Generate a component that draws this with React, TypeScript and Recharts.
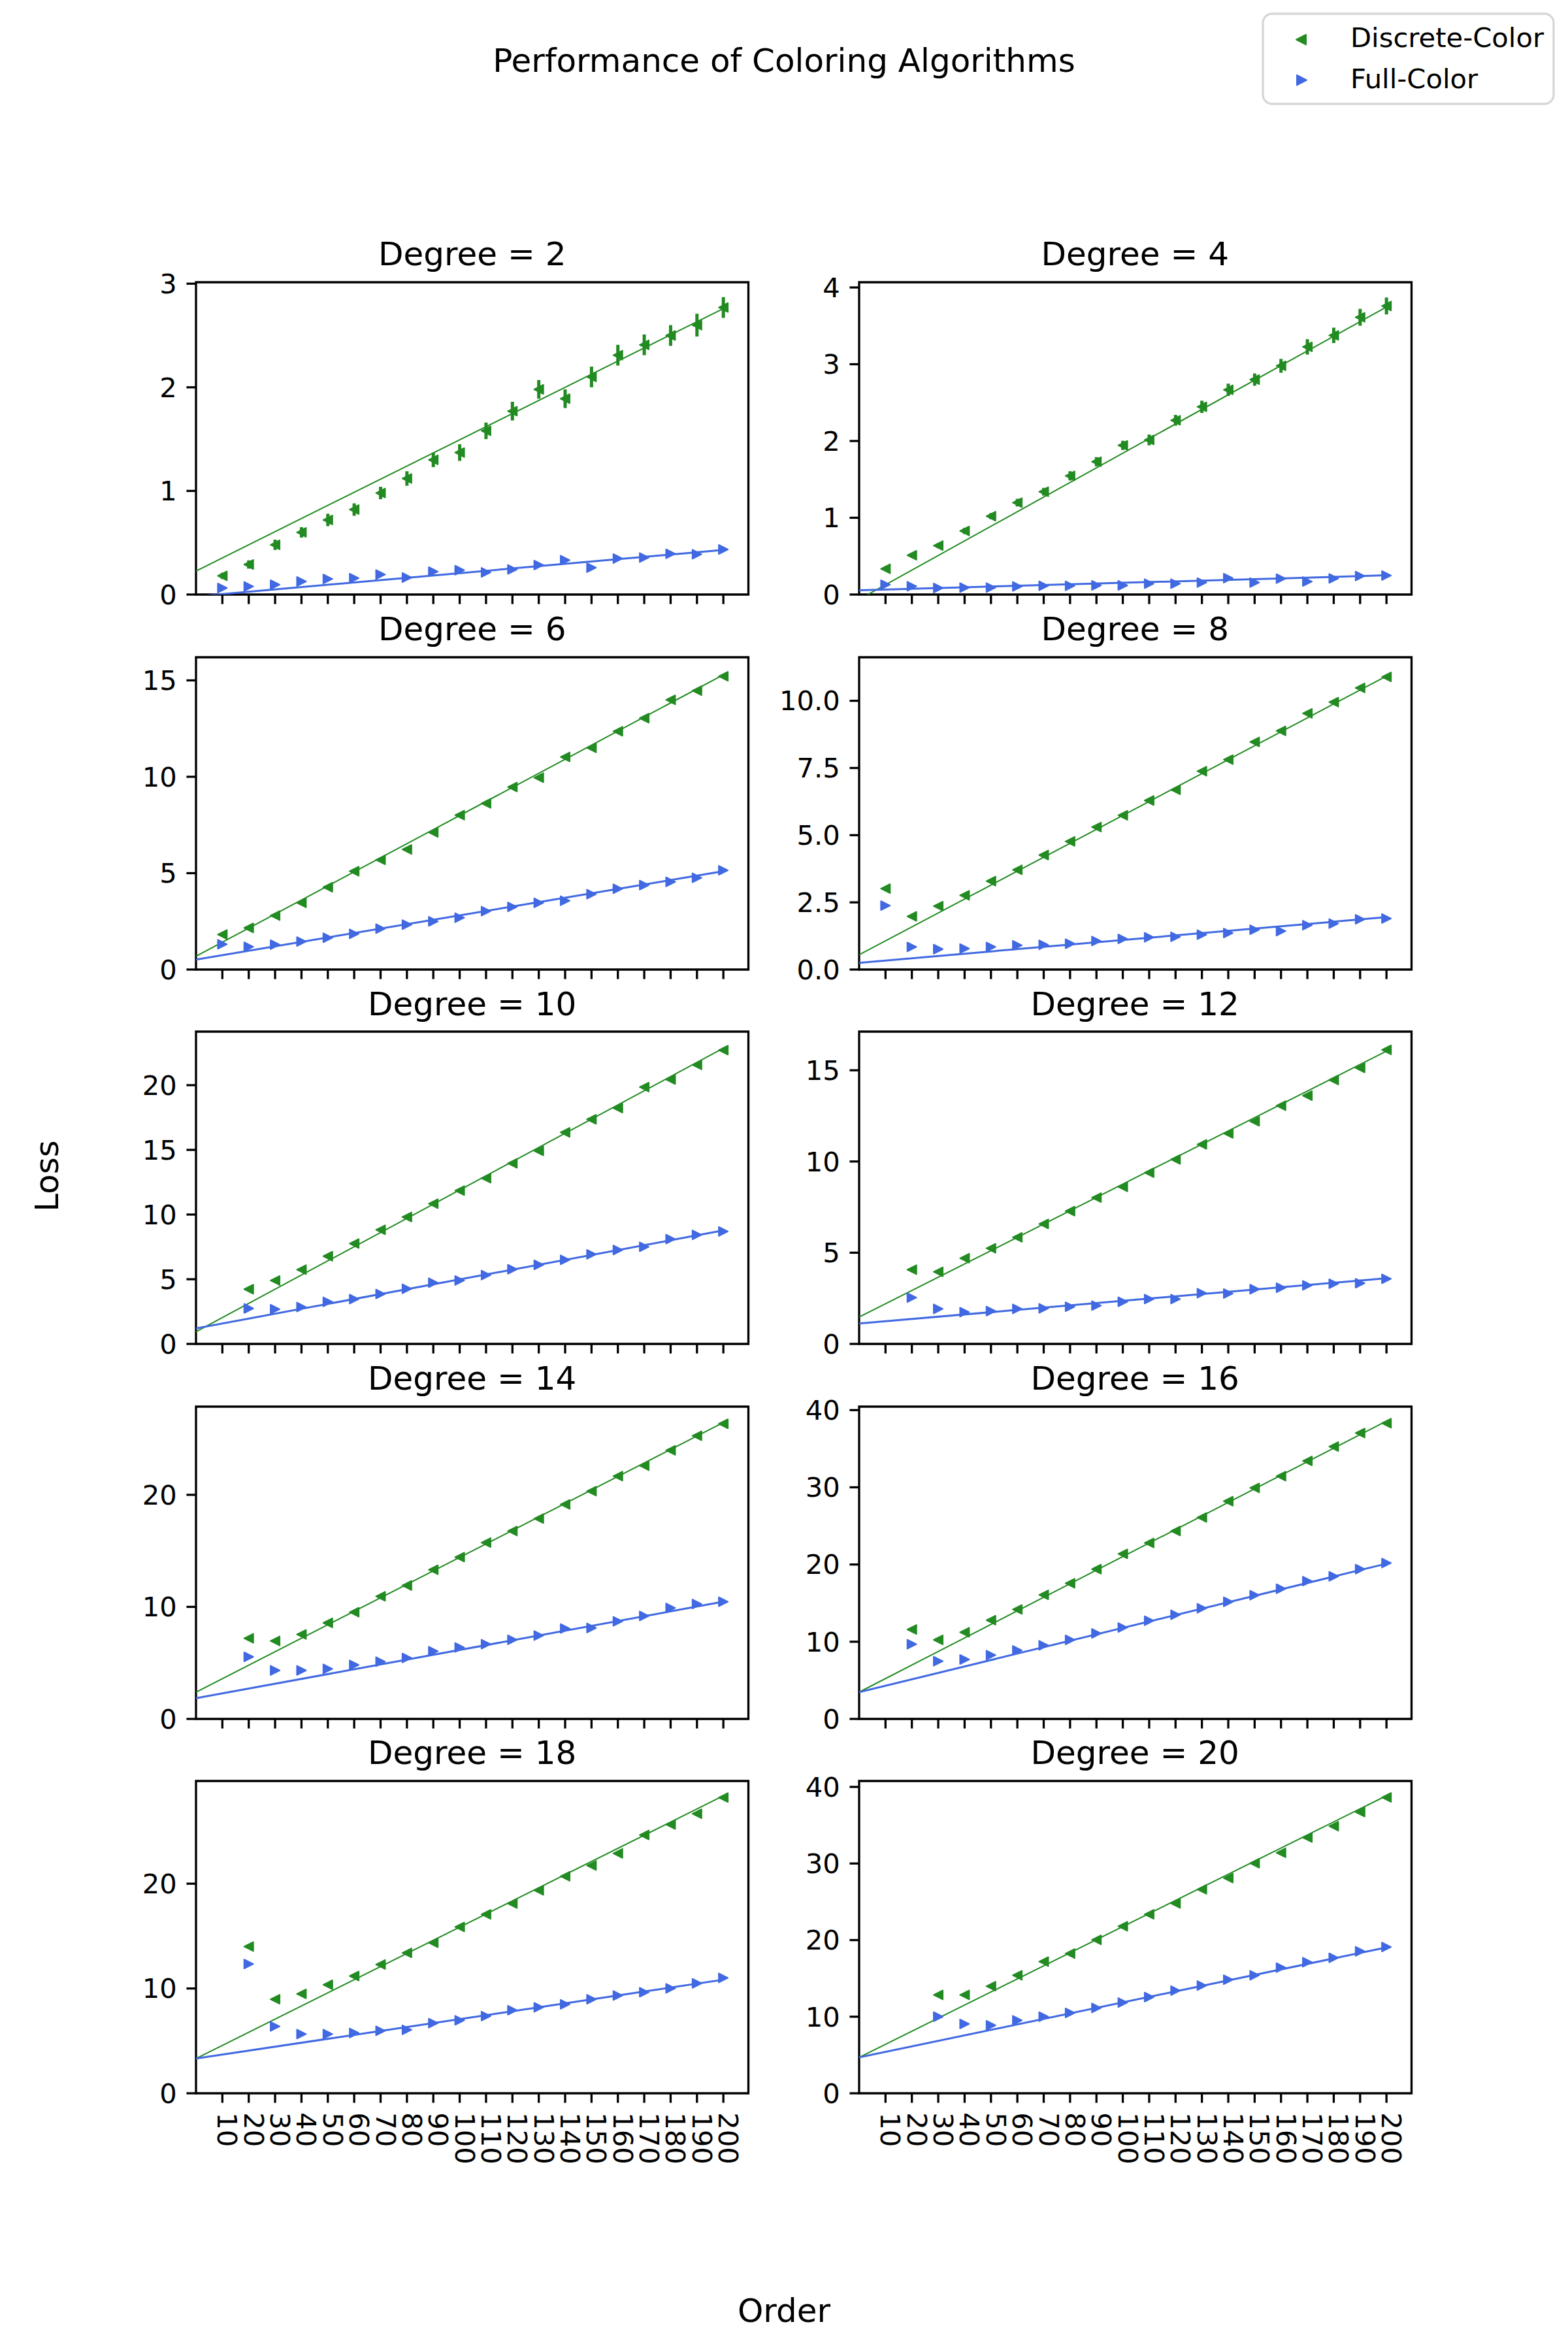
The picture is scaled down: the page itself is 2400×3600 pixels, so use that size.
import React from "react";
import { ComposedChart, Scatter, Line, XAxis, YAxis, ErrorBar, ReferenceArea } from "recharts";

// graph order (x axis)
const ORDERS = [10, 20, 30, 40, 50, 60, 70, 80, 90, 100, 110, 120, 130, 140, 150, 160, 170, 180, 190, 200];
const DEGREES = [2, 4, 6, 8, 10, 12, 14, 16, 18, 20];

// Discrete-Color loss / error, Full-Color loss (null = no run at that order)
const discrete2 = [0.18, 0.29, 0.48, 0.6, 0.72, 0.82, 0.98, 1.12, 1.3, 1.37, 1.58, 1.77, 1.98, 1.89, 2.1, 2.31, 2.41, 2.5, 2.6, 2.77];
const discreteErr2 = [0.03, 0.04, 0.05, 0.05, 0.06, 0.06, 0.06, 0.07, 0.07, 0.08, 0.08, 0.09, 0.09, 0.09, 0.1, 0.1, 0.1, 0.1, 0.11, 0.1];
const full2 = [0.063, 0.078, 0.095, 0.126, 0.151, 0.158, 0.193, 0.164, 0.221, 0.235, 0.214, 0.242, 0.284, 0.332, 0.259, 0.347, 0.357, 0.393, 0.389, 0.435];

const discrete4 = [0.335, 0.511, 0.638, 0.828, 1.021, 1.197, 1.339, 1.546, 1.73, 1.943, 2.014, 2.27, 2.445, 2.667, 2.8, 2.979, 3.226, 3.376, 3.611, 3.759];
const discreteErr4 = [0.02, 0.03, 0.03, 0.04, 0.04, 0.05, 0.05, 0.06, 0.06, 0.06, 0.07, 0.07, 0.08, 0.08, 0.08, 0.09, 0.1, 0.1, 0.11, 0.11];
const full4 = [0.128, 0.108, 0.085, 0.091, 0.091, 0.105, 0.113, 0.113, 0.119, 0.119, 0.142, 0.142, 0.156, 0.213, 0.156, 0.207, 0.17, 0.21, 0.241, 0.247];

const discrete6 = [1.82, 2.16, 2.8, 3.46, 4.27, 5.1, 5.69, 6.23, 7.11, 8.01, 8.62, 9.47, 9.95, 11.03, 11.5, 12.36, 13.04, 13.99, 14.47, 15.21];
const full6 = [1.31, 1.18, 1.29, 1.45, 1.65, 1.85, 2.12, 2.33, 2.5, 2.69, 3.03, 3.25, 3.46, 3.57, 3.91, 4.19, 4.38, 4.55, 4.76, 5.15];

const discrete8 = [3.01, 1.98, 2.36, 2.76, 3.29, 3.71, 4.26, 4.77, 5.3, 5.74, 6.29, 6.69, 7.38, 7.81, 8.47, 8.88, 9.53, 9.95, 10.48, 10.89];
const full8 = [2.38, 0.84, 0.76, 0.78, 0.84, 0.9, 0.92, 0.96, 1.06, 1.14, 1.2, 1.22, 1.3, 1.36, 1.48, 1.43, 1.65, 1.71, 1.87, 1.9];

const discrete10 = [null, 4.23, 4.9, 5.74, 6.78, 7.76, 8.82, 9.81, 10.84, 11.85, 12.81, 13.96, 14.92, 16.35, 17.36, 18.23, 19.85, 20.44, 21.57, 22.71];
const full10 = [null, 2.74, 2.68, 2.85, 3.25, 3.47, 3.86, 4.26, 4.73, 4.9, 5.32, 5.77, 6.11, 6.5, 6.92, 7.26, 7.51, 8.1, 8.43, 8.69];

const discrete12 = [null, 4.07, 3.95, 4.7, 5.24, 5.84, 6.58, 7.28, 8.02, 8.61, 9.39, 10.11, 10.94, 11.54, 12.2, 13.06, 13.61, 14.47, 15.13, 16.12];
const full12 = [null, 2.54, 1.92, 1.74, 1.8, 1.92, 1.95, 2.04, 2.1, 2.31, 2.46, 2.46, 2.78, 2.76, 3.0, 3.08, 3.21, 3.3, 3.33, 3.57];

const discrete14 = [null, 7.19, 6.96, 7.54, 8.57, 9.52, 10.94, 11.91, 13.31, 14.44, 15.74, 16.77, 17.88, 19.14, 20.33, 21.67, 22.6, 23.97, 25.27, 26.34];
const full14 = [null, 5.54, 4.33, 4.33, 4.47, 4.82, 5.11, 5.44, 6.04, 6.38, 6.67, 7.06, 7.44, 8.07, 8.12, 8.71, 9.19, 9.91, 10.26, 10.46];

const discrete16 = [null, 11.59, 10.24, 11.22, 12.78, 14.18, 16.07, 17.57, 19.4, 21.38, 22.79, 24.34, 26.09, 28.2, 29.92, 31.44, 33.42, 35.28, 37.03, 38.3];
const full16 = [null, 9.67, 7.47, 7.7, 8.26, 8.88, 9.53, 10.24, 11.08, 11.84, 12.72, 13.48, 14.33, 15.17, 16.02, 16.86, 17.85, 18.47, 19.4, 20.19];

const discrete18 = [null, 14.0, 8.97, 9.49, 10.36, 11.19, 12.29, 13.4, 14.37, 15.87, 17.07, 18.11, 19.36, 20.71, 21.74, 22.89, 24.65, 25.65, 26.67, 28.22];
const full18 = [null, 12.34, 6.38, 5.65, 5.65, 5.75, 5.96, 6.06, 6.69, 6.96, 7.37, 7.93, 8.2, 8.49, 8.97, 9.33, 9.64, 10.01, 10.49, 11.01];

const discrete20 = [null, null, 12.84, 12.84, 13.98, 15.4, 17.19, 18.24, 20.03, 21.8, 23.36, 24.78, 26.63, 28.1, 30.04, 31.4, 33.39, 34.87, 36.71, 38.62];
const full20 = [null, null, 10.0, 9.06, 8.87, 9.52, 10.0, 10.49, 11.14, 11.85, 12.56, 13.41, 14.06, 14.83, 15.4, 16.4, 17.11, 17.68, 18.53, 19.1];

// fitted lines: value at order 0 and order 200
const discreteFit = [[0.227, 2.76], [-0.063, 3.745], [0.69, 15.29], [0.55, 10.92], [0.94, 22.86], [1.47, 16.05], [2.39, 26.45], [3.47, 38.58], [3.32, 28.39], [4.69, 38.85]];
const fullFit = [[-0.018, 0.431], [0.055, 0.25], [0.52, 5.1], [0.25, 1.95], [1.2, 8.77], [1.12, 3.6], [1.85, 10.46], [3.47, 20.11], [3.32, 10.84], [4.69, 19.04]];

const yMax = [3.014, 4.068, 16.2, 11.62, 24.14, 17.12, 27.87, 40.45, 29.8, 40.77];
const yTicks = [
  [0, 1, 2, 3], [0, 1, 2, 3, 4], [0, 5, 10, 15], [0, 2.5, 5, 7.5, 10],
  [0, 5, 10, 15, 20], [0, 5, 10, 15], [0, 10, 20], [0, 10, 20, 30, 40],
  [0, 10, 20], [0, 10, 20, 30, 40],
];

const DISCRETE = [discrete2, discrete4, discrete6, discrete8, discrete10, discrete12, discrete14, discrete16, discrete18, discrete20];
const DISCRETE_ERR = [discreteErr2, discreteErr4, null, null, null, null, null, null, null, null];
const FULL = [full2, full4, full6, full8, full10, full12, full14, full16, full18, full20];

const GREEN = "#228B22";
const BLUE = "#4169E1";
const FONT = "'DejaVu Sans', sans-serif";
const TICK_FS = 41.7;
const TITLE_FS = 50;
const X_MAX = 209.5;

const PLOT_W = 845.5;
const PLOT_H = 478;
const COL_X = [300, 1314.5];
const ROW_Y = [432, 1005.6, 1579.1, 2152.7, 2726];
const Y_AXIS_W = 160;
const PAD_TOP = 32;
const PAD_RIGHT = 6;
const TICK_LEN = 14.6;
const SPINE = 3.3;

const toPoints = (vals: (number | null)[], errs?: number[] | null) =>
  ORDERS.map((x, k) => ({ x, y: vals[k], err: errs ? errs[k] : 0 })).filter((p) => p.y != null);

const tri = (color: string, dir: "left" | "right") => (p: any) => {
  const { cx, cy } = p;
  if (cx == null || cy == null) return <g />;
  const h = 7;
  const pts =
    dir === "left"
      ? `${cx - h},${cy} ${cx + h},${cy - h} ${cx + h},${cy + h}`
      : `${cx + h},${cy} ${cx - h},${cy - h} ${cx - h},${cy + h}`;
  return <polygon points={pts} fill={color} stroke={color} strokeWidth={2} strokeLinejoin="round" />;
};

function Panel({ i }: { i: number }) {
  const row = Math.floor(i / 2);
  const col = i % 2;
  const bottom = row === 4;
  const xh = bottom ? 170 : 40;
  const discrete = toPoints(DISCRETE[i], DISCRETE_ERR[i]);
  const full = toPoints(FULL[i]);
  const fitD = [{ x: 0, y: discreteFit[i][0] }, { x: 200, y: discreteFit[i][1] }];
  const fitF = [{ x: 0, y: fullFit[i][0] }, { x: 200, y: fullFit[i][1] }];
  const decimals = i === 3;

  return (
    <div style={{ position: "absolute", left: COL_X[col] - Y_AXIS_W, top: ROW_Y[row] - PAD_TOP }}>
      <ComposedChart
        width={Y_AXIS_W + PLOT_W + PAD_RIGHT}
        height={PAD_TOP + PLOT_H + xh}
        margin={{ top: PAD_TOP, right: PAD_RIGHT, left: 0, bottom: 0 }}
      >
        <XAxis
          type="number"
          dataKey="x"
          domain={[0, X_MAX]}
          ticks={ORDERS}
          interval={0}
          allowDataOverflow
          height={xh}
          axisLine={false}
          tickSize={TICK_LEN}
          tickMargin={TICK_LEN}
          tickLine={{ stroke: "#000", strokeWidth: SPINE }}
          tick={(p: any) =>
            bottom ? (
              <text
                x={p.x - 7}
                y={p.y}
                transform={`rotate(90, ${p.x - 7}, ${p.y})`}
                textAnchor="start"
                fontSize={TICK_FS}
                fontFamily={FONT}
                fill="#000"
              >
                {p.payload.value}
              </text>
            ) : (
              <g />
            )
          }
        />
        <YAxis
          type="number"
          dataKey="y"
          domain={[0, yMax[i]]}
          ticks={yTicks[i]}
          interval={0}
          allowDataOverflow
          width={Y_AXIS_W}
          axisLine={false}
          tickSize={TICK_LEN}
          tickMargin={TICK_LEN}
          tickLine={{ stroke: "#000", strokeWidth: SPINE }}
          tick={{ fontSize: TICK_FS, fill: "#000", fontFamily: FONT }}
          tickFormatter={(v: number) => (decimals ? v.toFixed(1) : String(v))}
        />
        <Scatter data={discrete} fill={GREEN} shape={tri(GREEN, "left")} isAnimationActive={false}>
          {DISCRETE_ERR[i] && <ErrorBar dataKey="err" direction="y" width={0} stroke={GREEN} strokeWidth={5} />}
        </Scatter>
        <Scatter data={full} fill={BLUE} shape={tri(BLUE, "right")} isAnimationActive={false} />
        <Line data={fitD} dataKey="y" type="linear" stroke={GREEN} strokeWidth={2} dot={false} activeDot={false} isAnimationActive={false} />
        <Line data={fitF} dataKey="y" type="linear" stroke={BLUE} strokeWidth={3} dot={false} activeDot={false} isAnimationActive={false} />
        <ReferenceArea x1={0} x2={X_MAX} y1={0} y2={yMax[i]} fill="none" stroke="#000" strokeWidth={SPINE} strokeOpacity={1} />
      </ComposedChart>
    </div>
  );
}

export default function App() {
  return (
    <div style={{ position: "absolute", left: 0, top: 0, width: 2400, height: 3600, background: "#fff", fontFamily: FONT }}>
      <svg width={2400} height={3600} style={{ position: "absolute", left: 0, top: 0 }}>
        <text x={1200} y={110} textAnchor="middle" fontSize={TITLE_FS} fontFamily={FONT} fill="#000">
          Performance of Coloring Algorithms
        </text>
        {DEGREES.map((d, i) => (
          <text
            key={d}
            x={COL_X[i % 2] + PLOT_W / 2}
            y={ROW_Y[Math.floor(i / 2)] - 25.6}
            textAnchor="middle"
            fontSize={TITLE_FS}
            fontFamily={FONT}
            fill="#000"
          >
            {`Degree = ${d}`}
          </text>
        ))}
        <text
          x={72}
          y={1800}
          transform="rotate(-90, 72, 1800)"
          textAnchor="middle"
          dominantBaseline="central"
          fontSize={TITLE_FS}
          fontFamily={FONT}
          fill="#000"
        >
          Loss
        </text>
        <text x={1200} y={3554} textAnchor="middle" fontSize={TITLE_FS} fontFamily={FONT} fill="#000">
          Order
        </text>
        {/* figure legend */}
        <rect x={1933} y={21} width={445} height={138} rx={14} fill="#fff" stroke="#d6d6d6" strokeWidth={3.3} />
        <polygon points="1984,60.7 1999,53 1999,68.4" fill={GREEN} stroke={GREEN} strokeWidth={2} strokeLinejoin="round" />
        <text x={2067} y={71.7} fontSize={TICK_FS} fontFamily={FONT} fill="#000">
          Discrete-Color
        </text>
        <polygon points="2000,122.7 1985,115 1985,130.4" fill={BLUE} stroke={BLUE} strokeWidth={2} strokeLinejoin="round" />
        <text x={2067} y={135} fontSize={TICK_FS} fontFamily={FONT} fill="#000">
          Full-Color
        </text>
      </svg>
      {DEGREES.map((d, i) => (
        <Panel key={d} i={i} />
      ))}
    </div>
  );
}
